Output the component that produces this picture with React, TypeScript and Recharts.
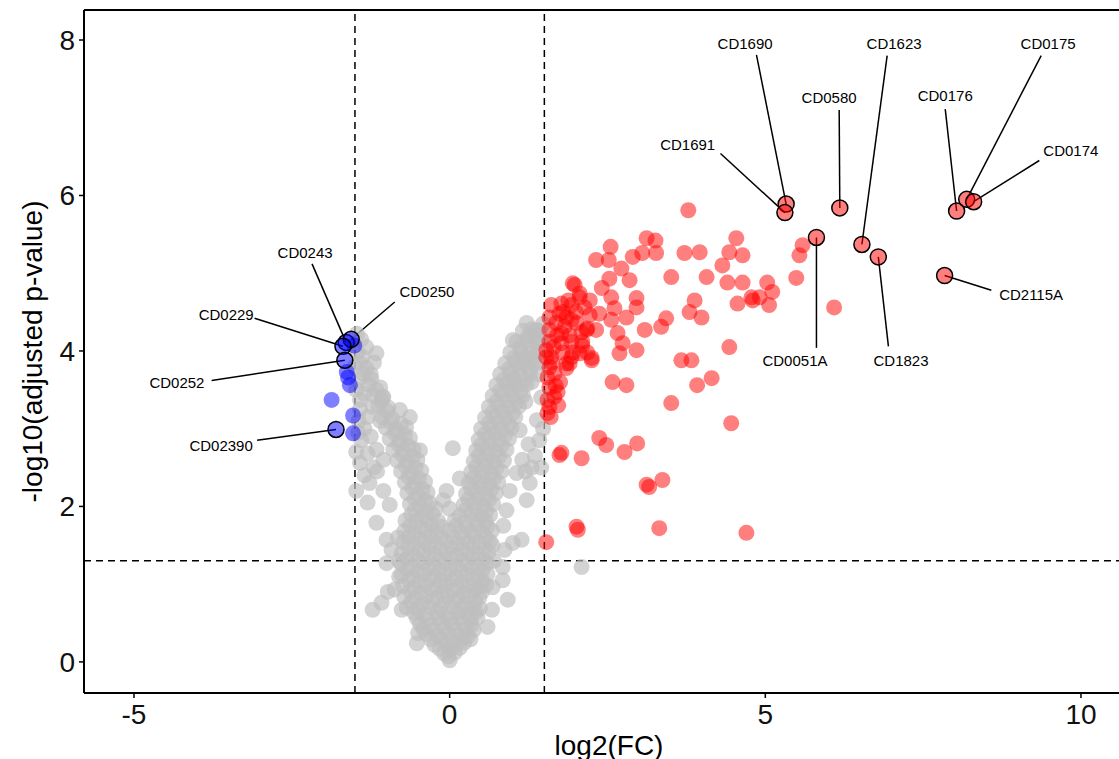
import React from 'react';
import { ScatterChart, Scatter, XAxis, YAxis, ReferenceLine } from 'recharts';

type Pt = [number, number];

// thresholds used in the plot
const fcCut = 1.5;
const pCut = 1.3;

const xTicks = [-5, 0, 5, 10];
const yTicks = [0, 2, 4, 6, 8];

// not significant genes (log2FC, -log10 padj)
const greyPts: Pt[] = [
  [0.0, 0.02], [-0.09, 0.11], [0.08, 0.12],
  [-0.24, 0.22], [-0.07, 0.24], [0.09, 0.21], [0.23, 0.25],
  [-0.37, 0.36], [-0.2, 0.34], [-0.03, 0.37], [0.14, 0.35], [0.29, 0.33],
  [-0.47, 0.49], [-0.3, 0.47], [-0.13, 0.5], [0.04, 0.48], [0.21, 0.5], [0.35, 0.47],
  [-0.56, 0.63], [-0.39, 0.61], [-0.2, 0.64], [-0.04, 0.6], [0.12, 0.63], [0.29, 0.62], [0.42, 0.64],
  [-0.61, 0.77], [-0.44, 0.75], [-0.27, 0.78], [-0.09, 0.76], [0.07, 0.78], [0.24, 0.75], [0.41, 0.77],
  [-0.63, 0.91], [-0.46, 0.89], [-0.28, 0.92], [-0.12, 0.9], [0.05, 0.92], [0.22, 0.89], [0.39, 0.91], [0.51, 0.9],
  [-0.65, 1.05], [-0.48, 1.03], [-0.31, 1.06], [-0.14, 1.04], [0.03, 1.05], [0.2, 1.03], [0.37, 1.06], [0.52, 1.04],
  [-0.67, 1.19], [-0.5, 1.17], [-0.33, 1.2], [-0.16, 1.18], [0.01, 1.19], [0.18, 1.17], [0.35, 1.2], [0.52, 1.18],
  [-0.68, 1.33], [-0.5, 1.31], [-0.33, 1.34], [-0.16, 1.32], [0.02, 1.33], [0.19, 1.31], [0.36, 1.34], [0.53, 1.32],
  [-0.66, 1.47], [-0.49, 1.45], [-0.32, 1.48], [-0.15, 1.46], [0.03, 1.47], [0.2, 1.45], [0.37, 1.48], [0.55, 1.46],
  [-0.65, 1.61], [-0.48, 1.59], [-0.31, 1.62], [-0.14, 1.6], [0.05, 1.61], [0.22, 1.59], [0.39, 1.62], [0.57, 1.6],
  [-0.63, 1.75], [-0.46, 1.73], [-0.29, 1.76], [-0.13, 1.74], [0.1, 1.75], [0.27, 1.73], [0.44, 1.76], [0.6, 1.74],
  [-0.61, 1.89], [-0.44, 1.87], [-0.27, 1.9], [0.16, 1.88], [0.33, 1.9], [0.5, 1.87], [0.64, 1.89],
  [-0.63, 2.03], [-0.47, 2.01], [-0.31, 2.04], [0.22, 2.02], [0.38, 2.04], [0.54, 2.01], [0.69, 2.03],
  [-0.67, 2.17], [-0.51, 2.15], [-0.35, 2.18], [0.26, 2.16], [0.42, 2.18], [0.58, 2.15], [0.73, 2.17],
  [-0.71, 2.31], [-0.55, 2.29], [-0.39, 2.32], [0.3, 2.3], [0.46, 2.32], [0.62, 2.29], [0.77, 2.31],
  [-0.77, 2.45], [-0.61, 2.43], [-0.45, 2.46], [0.34, 2.44], [0.5, 2.46], [0.66, 2.43], [0.82, 2.45],
  [-0.83, 2.59], [-0.67, 2.57], [-0.51, 2.6], [0.38, 2.58], [0.54, 2.6], [0.7, 2.57], [0.86, 2.59],
  [-0.89, 2.73], [-0.73, 2.71], [-0.57, 2.74], [0.42, 2.72], [0.58, 2.74], [0.74, 2.71], [0.9, 2.73],
  [-0.95, 2.87], [-0.79, 2.85], [-0.63, 2.88], [0.46, 2.86], [0.62, 2.88], [0.78, 2.85], [0.94, 2.87],
  [-1.01, 3.01], [-0.85, 2.99], [-0.69, 3.02], [0.5, 3.0], [0.66, 3.02], [0.82, 2.99], [0.98, 3.01],
  [-1.07, 3.15], [-0.91, 3.13], [0.56, 3.14], [0.72, 3.16], [0.88, 3.13], [1.04, 3.15],
  [-1.13, 3.29], [-0.97, 3.27], [0.62, 3.28], [0.78, 3.3], [0.94, 3.27], [1.1, 3.29],
  [-1.21, 3.43], [-1.05, 3.41], [0.68, 3.42], [0.84, 3.44], [1.0, 3.41], [1.16, 3.43],
  [-1.29, 3.57], [0.74, 3.56], [0.9, 3.58], [1.06, 3.55], [1.22, 3.57],
  [-1.37, 3.71], [0.8, 3.7], [0.96, 3.72], [1.12, 3.69], [1.28, 3.71],
  [-1.43, 3.85], [0.88, 3.84], [1.04, 3.86], [1.2, 3.83], [1.34, 3.85],
  [-1.46, 3.99], [0.96, 3.98], [1.12, 4.0], [1.28, 3.97], [1.4, 3.99],
  [1.06, 4.12], [1.22, 4.14], [1.38, 4.11],
  [1.16, 4.26], [1.3, 4.28], [1.42, 4.25],
  // in-between rows of the dense core
  [-0.02, 0.07],
  [-0.16, 0.17], [0.0, 0.16], [0.16, 0.18],
  [-0.3, 0.29], [-0.13, 0.3], [0.04, 0.28], [0.2, 0.3], [0.33, 0.29],
  [-0.42, 0.42], [-0.25, 0.41], [-0.08, 0.43], [0.09, 0.41], [0.26, 0.43], [0.38, 0.41],
  [-0.52, 0.56], [-0.35, 0.54], [-0.17, 0.57], [0.0, 0.55], [0.17, 0.57], [0.33, 0.55], [0.44, 0.57],
  [-0.68, 0.7], [-0.5, 0.68], [-0.33, 0.71], [-0.15, 0.69], [0.02, 0.71], [0.18, 0.68], [0.35, 0.7], [0.48, 0.69],
  [-0.72, 0.84], [-0.54, 0.82], [-0.37, 0.85], [-0.2, 0.83], [-0.03, 0.85], [0.14, 0.82], [0.31, 0.84], [0.47, 0.83],
  [-0.74, 0.98], [-0.56, 0.96], [-0.39, 0.99], [-0.22, 0.97], [-0.05, 0.99], [0.12, 0.96], [0.29, 0.98], [0.45, 0.97], [0.58, 0.99],
  [-0.76, 1.12], [-0.58, 1.1], [-0.41, 1.13], [-0.24, 1.11], [-0.07, 1.13], [0.1, 1.1], [0.27, 1.12], [0.44, 1.11], [0.6, 1.13],
  [-0.77, 1.26], [-0.59, 1.24], [-0.42, 1.27], [-0.25, 1.25], [-0.07, 1.27], [0.1, 1.24], [0.27, 1.26], [0.44, 1.25], [0.6, 1.27],
  [-0.76, 1.4], [-0.58, 1.38], [-0.41, 1.41], [-0.24, 1.39], [-0.06, 1.41], [0.11, 1.38], [0.28, 1.4], [0.45, 1.39], [0.62, 1.41],
  [-0.74, 1.54], [-0.57, 1.52], [-0.4, 1.55], [-0.23, 1.53], [-0.05, 1.55], [0.13, 1.52], [0.3, 1.54], [0.47, 1.53], [0.64, 1.55],
  [-0.72, 1.68], [-0.55, 1.66], [-0.38, 1.69], [-0.21, 1.67], [0.0, 1.69], [0.18, 1.66], [0.35, 1.68], [0.52, 1.67], [0.67, 1.69],
  [-0.7, 1.82], [-0.53, 1.8], [-0.36, 1.83], [-0.18, 1.81], [0.08, 1.82], [0.25, 1.8], [0.42, 1.83], [0.57, 1.81],
  [-0.55, 1.96], [-0.38, 1.94], [-0.22, 1.97], [0.25, 1.95], [0.42, 1.97], [0.58, 1.94],
  [-0.55, 2.1], [-0.39, 2.08], [0.3, 2.09], [0.46, 2.11], [0.62, 2.08],
  [-0.59, 2.24], [-0.43, 2.22], [0.34, 2.23], [0.5, 2.25], [0.66, 2.22],
  [-0.65, 2.38], [-0.49, 2.36], [0.38, 2.37], [0.54, 2.39], [0.7, 2.36],
  [-0.7, 2.52], [-0.54, 2.5], [0.42, 2.51], [0.58, 2.53], [0.74, 2.5],
  [-0.75, 2.66], [-0.59, 2.64], [0.46, 2.65], [0.62, 2.67], [0.78, 2.64],
  [-0.81, 2.8], [-0.65, 2.78], [0.5, 2.79], [0.66, 2.81], [0.82, 2.78],
  [-0.87, 2.94], [-0.71, 2.92], [0.56, 2.93], [0.72, 2.95], [0.88, 2.92],
  [-0.93, 3.08], [-0.77, 3.06], [0.62, 3.07], [0.78, 3.09], [0.94, 3.06],
  [-0.99, 3.22], [0.68, 3.21], [0.84, 3.23], [1.0, 3.2],
  [-1.08, 3.36], [0.74, 3.35], [0.9, 3.37], [1.06, 3.34],
  [-1.16, 3.5], [0.8, 3.49], [0.96, 3.51], [1.12, 3.48],
  [-1.24, 3.64], [0.86, 3.63], [1.02, 3.65], [1.18, 3.62],
  [-1.32, 3.78], [0.94, 3.77], [1.1, 3.79], [1.26, 3.76],
  [1.02, 3.91], [1.18, 3.93], [1.32, 3.9],
  [1.12, 4.05], [1.28, 4.07],
  [1.24, 4.19], [1.36, 4.18],
  // scattered ones
  [-1.16, 3.97], [-1.38, 3.92], [-1.1, 3.53], [-1.06, 3.4], [-1.22, 3.28], [-1.42, 3.37],
  [-0.63, 3.15], [-0.79, 3.24], [-0.47, 2.72], [-1.42, 2.56], [-1.27, 2.3], [-1.16, 2.73],
  [-1.45, 3.62], [-1.4, 4.15], [-1.47, 4.22], [-1.22, 0.67], [-1.08, 0.76], [-0.98, 0.9],
  [-0.87, 0.93], [-0.76, 0.67], [-1.0, 1.27], [-1.0, 1.57], [-0.92, 1.44], [-1.16, 1.79],
  [-1.3, 2.05], [-1.05, 2.2], [-0.95, 2.02], [-1.44, 3.1], [-1.35, 3.0], [-1.4, 2.85],
  [-1.3, 2.68], [-1.3, 3.15], [-1.2, 2.5], [-1.05, 2.6], [-0.52, 0.24], [-0.5, 0.37],
  [-0.8, 1.3], [-0.82, 1.6], [-0.8, 1.1],
  [-1.48, 3.5], [-1.42, 3.25], [-1.35, 3.45], [-1.25, 3.7], [-1.2, 3.85], [-1.48, 2.7],
  [-1.45, 2.95], [-1.35, 2.4], [-1.48, 2.2], [-1.15, 2.45], [-1.1, 3.1], [-1.25, 2.9],
  [-1.32, 4.05], [-1.5, 3.8],
  [0.92, 0.8], [0.84, 1.05], [1.14, 1.57], [1.0, 1.53], [0.87, 1.44], [0.84, 1.22],
  [0.68, 0.96], [0.67, 0.67], [0.6, 0.45], [0.68, 1.5], [0.7, 1.3],
  [1.27, 2.3], [1.22, 2.08], [1.06, 2.43], [0.9, 1.95], [1.11, 2.98], [1.38, 3.11], [1.42, 2.85],
  [0.05, 2.75], [2.09, 1.22], [1.3, 3.6], [1.45, 3.4], [1.45, 3.85], [1.46, 4.15],
  [1.22, 4.36], [1.38, 4.27], [1.0, 4.14], [0.85, 1.75], [0.95, 2.2], [1.15, 2.6], [1.3, 2.5],
  [0.16, 2.36], [-0.05, 2.2], [-0.1, 2.08], [0.0, 1.97], [1.2, 3.35], [1.0, 3.6], [1.1, 3.85],
  [1.25, 2.8], [1.35, 2.65], [1.45, 2.5], [1.48, 3.0], [1.4, 3.7], [1.48, 4.35], [1.2, 2.45],
];

// up-regulated genes
const redPts: Pt[] = [
  [3.78, 5.81], [3.12, 5.45], [3.26, 5.42], [2.55, 5.34], [2.32, 5.17], [2.52, 5.17],
  [2.9, 5.21], [3.05, 5.26], [3.27, 5.26], [3.72, 5.26], [3.96, 5.27], [4.54, 5.45],
  [4.43, 5.27], [4.64, 5.23], [4.32, 5.1], [5.59, 5.36], [5.54, 5.23], [5.49, 4.94],
  [2.72, 5.06], [2.53, 4.93], [2.85, 4.91], [3.51, 4.95], [4.07, 4.95], [4.4, 4.88],
  [4.64, 4.88], [5.03, 4.88], [2.41, 4.81], [1.98, 4.85], [4.78, 4.69], [4.91, 4.69],
  [5.11, 4.76], [5.06, 4.59], [4.56, 4.61], [4.8, 4.65], [6.09, 4.56],
  [3.88, 4.65], [3.8, 4.5], [3.99, 4.43], [3.43, 4.42], [3.35, 4.31], [2.96, 4.68],
  [2.96, 4.56], [2.56, 4.69], [2.61, 4.55], [2.8, 4.43], [2.37, 4.48], [2.56, 4.4],
  [2.22, 4.46], [2.18, 4.29], [2.32, 4.27], [3.09, 4.27], [2.66, 4.23], [2.74, 4.1],
  [2.69, 3.97], [2.96, 4.01], [2.09, 4.24], [2.1, 4.07], [2.25, 3.91], [2.06, 3.97],
  [1.93, 3.92], [1.85, 3.84], [4.43, 4.05], [3.67, 3.88], [3.83, 3.88], [4.15, 3.65],
  [3.92, 3.56], [3.51, 3.33], [2.58, 3.6], [2.8, 3.56], [4.46, 3.07],
  [1.61, 4.59], [1.77, 4.61], [1.93, 4.59], [2.06, 4.69], [2.14, 4.56], [2.22, 4.65],
  [1.58, 4.43], [1.74, 4.48], [1.85, 4.43], [1.69, 4.36], [1.82, 4.31], [1.93, 4.4],
  [2.01, 4.36], [1.77, 4.23], [1.9, 4.2], [1.58, 4.27], [2.17, 4.27], [2.1, 4.12],
  [1.93, 4.12], [1.77, 4.1], [1.58, 4.12], [1.53, 4.01], [1.61, 3.92], [1.79, 3.98],
  [1.95, 3.98], [2.18, 3.98], [2.25, 3.88], [1.9, 3.84], [1.85, 3.78], [1.58, 3.79],
  [1.55, 3.66], [1.66, 3.71], [1.58, 3.53], [1.71, 3.47], [1.55, 3.37], [1.66, 3.41],
  [1.53, 3.92], [1.55, 3.2], [1.58, 3.28], [1.6, 3.15], [1.95, 4.87], [2.06, 4.74],
  [1.7, 4.2], [1.65, 4.05], [1.75, 3.6], [1.68, 3.55], [1.62, 3.85], [1.8, 4.5],
  [1.88, 4.65], [2.0, 4.5], [1.72, 3.3],
  [2.37, 2.88], [2.48, 2.79], [2.77, 2.7], [2.97, 2.81], [1.74, 2.66], [1.77, 2.69],
  [2.09, 2.62], [3.12, 2.28], [3.16, 2.25], [3.37, 2.34], [2.01, 1.74], [2.03, 1.7],
  [3.32, 1.72], [4.7, 1.66], [1.53, 1.54],
];

// down-regulated genes
const bluePts: Pt[] = [
  [-1.87, 3.37], [-1.53, 3.17], [-1.53, 2.94], [-1.63, 3.73], [-1.58, 3.56],
  [-1.51, 4.07], [-1.61, 3.66],
];

// labelled genes
const upGenes = [
  { name: 'CD1690', x: 5.33, y: 5.89 },
  { name: 'CD1691', x: 5.31, y: 5.78 },
  { name: 'CD0580', x: 6.18, y: 5.84 },
  { name: 'CD0051A', x: 5.81, y: 5.46 },
  { name: 'CD1623', x: 6.53, y: 5.37 },
  { name: 'CD1823', x: 6.79, y: 5.21 },
  { name: 'CD2115A', x: 7.84, y: 4.97 },
  { name: 'CD0176', x: 8.03, y: 5.8 },
  { name: 'CD0175', x: 8.19, y: 5.95 },
  { name: 'CD0174', x: 8.3, y: 5.92 },
];

const downGenes = [
  { name: 'CD0243', x: -1.64, y: 4.11 },
  { name: 'CD0250', x: -1.56, y: 4.15 },
  { name: 'CD0229', x: -1.69, y: 4.06 },
  { name: 'CD0252', x: -1.66, y: 3.88 },
  { name: 'CD02390', x: -1.8, y: 2.99 },
];

// where the repelled labels sit (text centre and start of the leader line)
const labelSpots = [
  { name: 'CD1690', tx: 4.68, ty: 7.96, lx: 4.86, ly: 7.81 },
  { name: 'CD1691', tx: 3.77, ty: 6.65, lx: 4.29, ly: 6.54 },
  { name: 'CD0580', tx: 6.01, ty: 7.26, lx: 6.17, ly: 7.1 },
  { name: 'CD0051A', tx: 5.47, ty: 3.88, lx: 5.81, ly: 4.04 },
  { name: 'CD1623', tx: 7.04, ty: 7.96, lx: 6.93, ly: 7.8 },
  { name: 'CD1823', tx: 7.15, ty: 3.88, lx: 6.95, ly: 4.06 },
  { name: 'CD2115A', tx: 9.21, ty: 4.73, lx: 8.58, ly: 4.78 },
  { name: 'CD0176', tx: 7.85, ty: 7.28, lx: 7.85, ly: 7.11 },
  { name: 'CD0175', tx: 9.48, ty: 7.96, lx: 9.37, ly: 7.8 },
  { name: 'CD0174', tx: 9.84, ty: 6.58, lx: 9.34, ly: 6.45 },
  { name: 'CD0243', tx: -2.29, ty: 5.27, lx: -2.18, ly: 5.12 },
  { name: 'CD0250', tx: -0.36, ty: 4.77, lx: -0.87, ly: 4.63 },
  { name: 'CD0229', tx: -3.54, ty: 4.47, lx: -3.09, ly: 4.42 },
  { name: 'CD0252', tx: -4.32, ty: 3.6, lx: -3.77, ly: 3.62 },
  { name: 'CD02390', tx: -3.62, ty: 2.78, lx: -3.05, ly: 2.85 },
];

const FONT = '"Liberation Sans", Arial, Helvetica, sans-serif';
const X_DOMAIN: [number, number] = [-5.792, 10.84];
const Y_DOMAIN: [number, number] = [-0.4, 8.386];

const toObjs = (pts: Pt[]) => pts.map(([x, y]) => ({ x, y }));
const allGenes = [...upGenes, ...downGenes];

const dot = (fill: string, opacity: number, outline = false) => (p: any) => (
  <circle
    cx={p.cx}
    cy={p.cy}
    r={8}
    fill={fill}
    fillOpacity={opacity}
    stroke={outline ? '#000' : 'none'}
    strokeWidth={1.5}
  />
);

const tag = (p: any) => (
  <text
    x={p.cx}
    y={p.cy}
    textAnchor="middle"
    dominantBaseline="central"
    fontSize={15}
    fontFamily={FONT}
    fill="#000"
  >
    {p.payload.name}
  </text>
);

const yTitle = (p: any) => {
  const vb = p.viewBox || { x: 0, y: 10, width: 84, height: 683 };
  const cx = vb.x + 32;
  const cy = vb.y + vb.height / 2;
  return (
    <text
      x={cx}
      y={cy}
      transform={`rotate(-90 ${cx} ${cy})`}
      textAnchor="middle"
      dominantBaseline="central"
      fontSize={28}
      fontFamily={FONT}
      fill="#000"
    >
      -log10(adjusted p-value)
    </text>
  );
};

const xTitle = (p: any) => {
  const vb = p.viewBox || { x: 84, y: 693, width: 1050, height: 66 };
  return (
    <text
      x={vb.x + vb.width / 2}
      y={vb.y + 52}
      textAnchor="middle"
      dominantBaseline="central"
      fontSize={28}
      fontFamily={FONT}
      fill="#000"
    >
      log2(FC)
    </text>
  );
};

export default function App() {
  const tickStyle = { fontSize: 28, fill: '#111', fontFamily: FONT };
  return (
    <div style={{ position: 'absolute', left: 0, top: 0, width: 1119, height: 759, overflow: 'hidden', background: '#fff' }}>
      <ScatterChart width={1136} height={759} margin={{ top: 10, right: 2, bottom: 0, left: 0 }}>
        <XAxis
          type="number"
          dataKey="x"
          domain={X_DOMAIN}
          ticks={xTicks}
          interval={0}
          height={66}
          tickSize={5}
          tickMargin={6}
          axisLine={{ stroke: '#000', strokeWidth: 2 }}
          tickLine={{ stroke: '#000', strokeWidth: 1.5 }}
          tick={tickStyle}
          label={{ value: 'log2(FC)', content: xTitle }}
        />
        <YAxis
          type="number"
          dataKey="y"
          domain={Y_DOMAIN}
          ticks={yTicks}
          interval={0}
          width={84}
          tickSize={5}
          tickMargin={4}
          axisLine={{ stroke: '#000', strokeWidth: 2 }}
          tickLine={{ stroke: '#000', strokeWidth: 1.5 }}
          tick={tickStyle}
          label={{ value: '-log10(adjusted p-value)', content: yTitle }}
        />

        <Scatter data={toObjs(greyPts)} shape={dot('#bebebe', 0.68)} isAnimationActive={false} />
        <Scatter data={toObjs(redPts)} shape={dot('#ff0000', 0.5)} isAnimationActive={false} />
        <Scatter data={toObjs(bluePts)} shape={dot('#0000ff', 0.5)} isAnimationActive={false} />

        {/* top edge of the panel border */}
        <ReferenceLine y={Y_DOMAIN[1]} stroke="#000" strokeWidth={2} />

        <ReferenceLine x={-fcCut} stroke="#000" strokeWidth={1.5} strokeDasharray="7 5" />
        <ReferenceLine x={fcCut} stroke="#000" strokeWidth={1.5} strokeDasharray="7 5" />
        <ReferenceLine y={pCut} stroke="#000" strokeWidth={1.5} strokeDasharray="7 5" />

        {labelSpots.map((s) => {
          const g = allGenes.find((d) => d.name === s.name)!;
          return (
            <ReferenceLine
              key={s.name}
              segment={[{ x: s.lx, y: s.ly }, { x: g.x, y: g.y }]}
              stroke="#000"
              strokeWidth={1.5}
            />
          );
        })}

        <Scatter data={upGenes} shape={dot('#ff0000', 0.5, true)} isAnimationActive={false} />
        <Scatter data={downGenes} shape={dot('#0000ff', 0.5, true)} isAnimationActive={false} />
        <Scatter
          data={labelSpots.map((s) => ({ name: s.name, x: s.tx, y: s.ty }))}
          shape={tag}
          isAnimationActive={false}
        />
      </ScatterChart>
    </div>
  );
}
